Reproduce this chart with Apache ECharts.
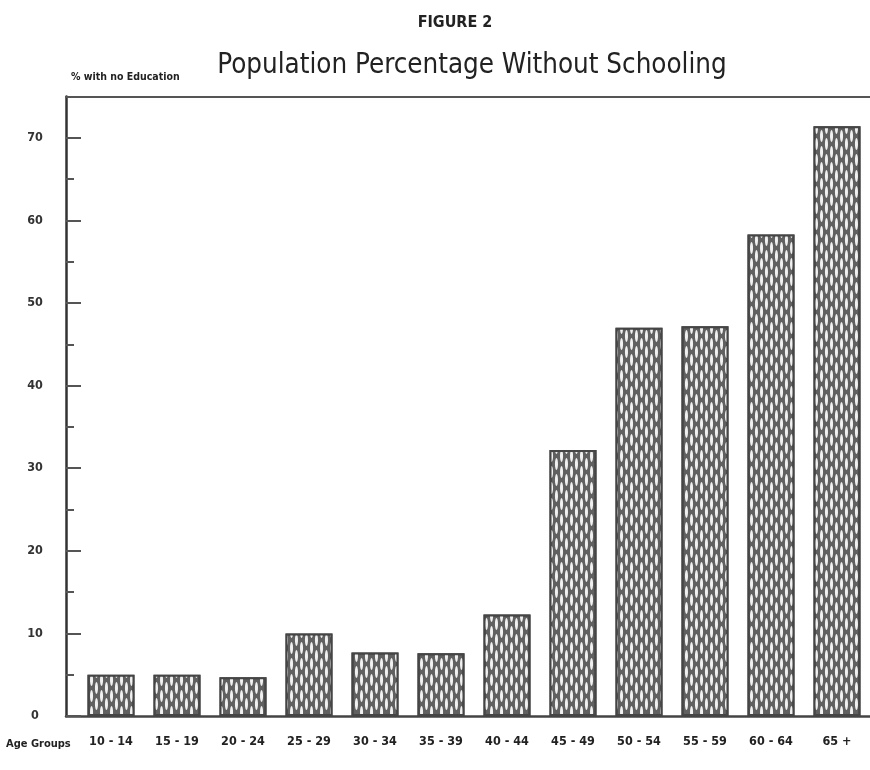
<!DOCTYPE html>
<html>
<head>
<meta charset="utf-8">
<script src="https://cdn.jsdelivr.net/npm/echarts@6/dist/echarts.min.js"></script>
<style>html,body{margin:0;padding:0;background:#fff;}#c{width:870px;height:770px;}</style>
</head>
<body>
<div id="c"></div>
<script>
const categories = ['10 - 14','15 - 19','20 - 24','25 - 29','30 - 34','35 - 39','40 - 44','45 - 49','50 - 54','55 - 59','60 - 64','65 +'];
const pctNoEducation = [5.0, 5.0, 4.7, 10.0, 7.7, 7.6, 12.3, 32.2, 47.0, 47.2, 58.3, 71.4];
const yMin = 0, yMax = 75, yMajor = 10, yMinor = 5;

const FONT = "'Liberation Sans Narrow','DejaVu Sans Condensed','Roboto',sans-serif";
const chart = echarts.init(document.getElementById('c'), null, {renderer:'canvas'});
const gTop = 96.5, gBottom = 54;
// honeycomb tile: one full narrow ellipse + two half ellipses (staggered column)
const meshTile = 'path://M2.25,2 A1.4,6 0 1,1 2.25,14 A1.4,6 0 1,1 2.25,2 Z' +
                 ' M5.35,0 A1.4,6 0 0,0 8.15,0 Z' +
                 ' M5.35,16 A1.4,6 0 0,1 8.15,16 Z';
chart.setOption({
  backgroundColor:'#ffffff',
  animation:false,
  title:[
    {text:'FIGURE 2', left:450, top:10, textAlign:'center', textStyle:{fontFamily:FONT, fontSize:16, fontWeight:'bold', color:'#222'}},
    {text:'Population Percentage Without Schooling', left:467, top:47, textAlign:'center', textStyle:{fontFamily:FONT, fontSize:27.5, fontWeight:'normal', color:'#222'}},
    {text:'% with no Education', left:66, top:67, textStyle:{fontFamily:FONT, fontSize:10.5, fontWeight:'bold', color:'#222'}},
    {text:'Age Groups', left:1, top:734, textStyle:{fontFamily:FONT, fontSize:11, fontWeight:'bold', color:'#222'}}
  ],
  grid:[
    {left:78, right:-2.5, top:gTop, bottom:gBottom},
    {left:66, right:0, top:gTop, bottom:gBottom},
    {left:66, right:0, top:gTop, bottom:gBottom}
  ],
  xAxis:[
    {type:'category', gridIndex:0, data:categories,
     axisLine:{show:false}, axisTick:{show:false},
     axisLabel:{margin:19, fontFamily:FONT, fontSize:12.5, fontWeight:'bold', color:'#222', interval:0}},
    {type:'value', gridIndex:1, position:'bottom', min:0, max:1,
     axisLine:{show:true, onZero:false, lineStyle:{color:'#444', width:2.5}}, axisTick:{show:false}, axisLabel:{show:false}, splitLine:{show:false}},
    {type:'value', gridIndex:2, position:'top', min:0, max:1,
     axisLine:{show:true, onZero:false, lineStyle:{color:'#555', width:2}}, axisTick:{show:false}, axisLabel:{show:false}, splitLine:{show:false}}
  ],
  yAxis:[
    {type:'value', gridIndex:0, min:yMin, max:yMax, show:false, splitLine:{show:false}},
    {type:'value', gridIndex:1, position:'left', min:yMin, max:yMax, interval:yMajor,
     axisLine:{show:true, onZero:false, lineStyle:{color:'#333', width:2.5}},
     axisTick:{show:true, inside:true, length:15, lineStyle:{color:'#555', width:2}},
     axisLabel:{showMaxLabel:false, margin:31, align:'center', fontFamily:FONT, fontSize:12.5, fontWeight:'bold', color:'#333'},
     splitLine:{show:false}},
    {type:'value', gridIndex:2, position:'left', min:yMin, max:yMax, interval:yMinor,
     axisLine:{show:false, onZero:false},
     axisTick:{show:true, inside:true, length:8, lineStyle:{color:'#555', width:2}},
     axisLabel:{show:false}, splitLine:{show:false}}
  ],
  series:[{
    type:'bar', xAxisIndex:0, yAxisIndex:0, data:pctNoEducation, barWidth:47,
    itemStyle:{
      color:'#606060', borderColor:'#454545', borderWidth:2,
      decal:{symbol:meshTile, symbolSize:1, symbolKeepAspect:false, color:'#f0f0f0',
             dashArrayX:[[7.3,1.7]], dashArrayY:[16,0], rotation:0}
    }
  }]
});
</script>
</body>
</html>
